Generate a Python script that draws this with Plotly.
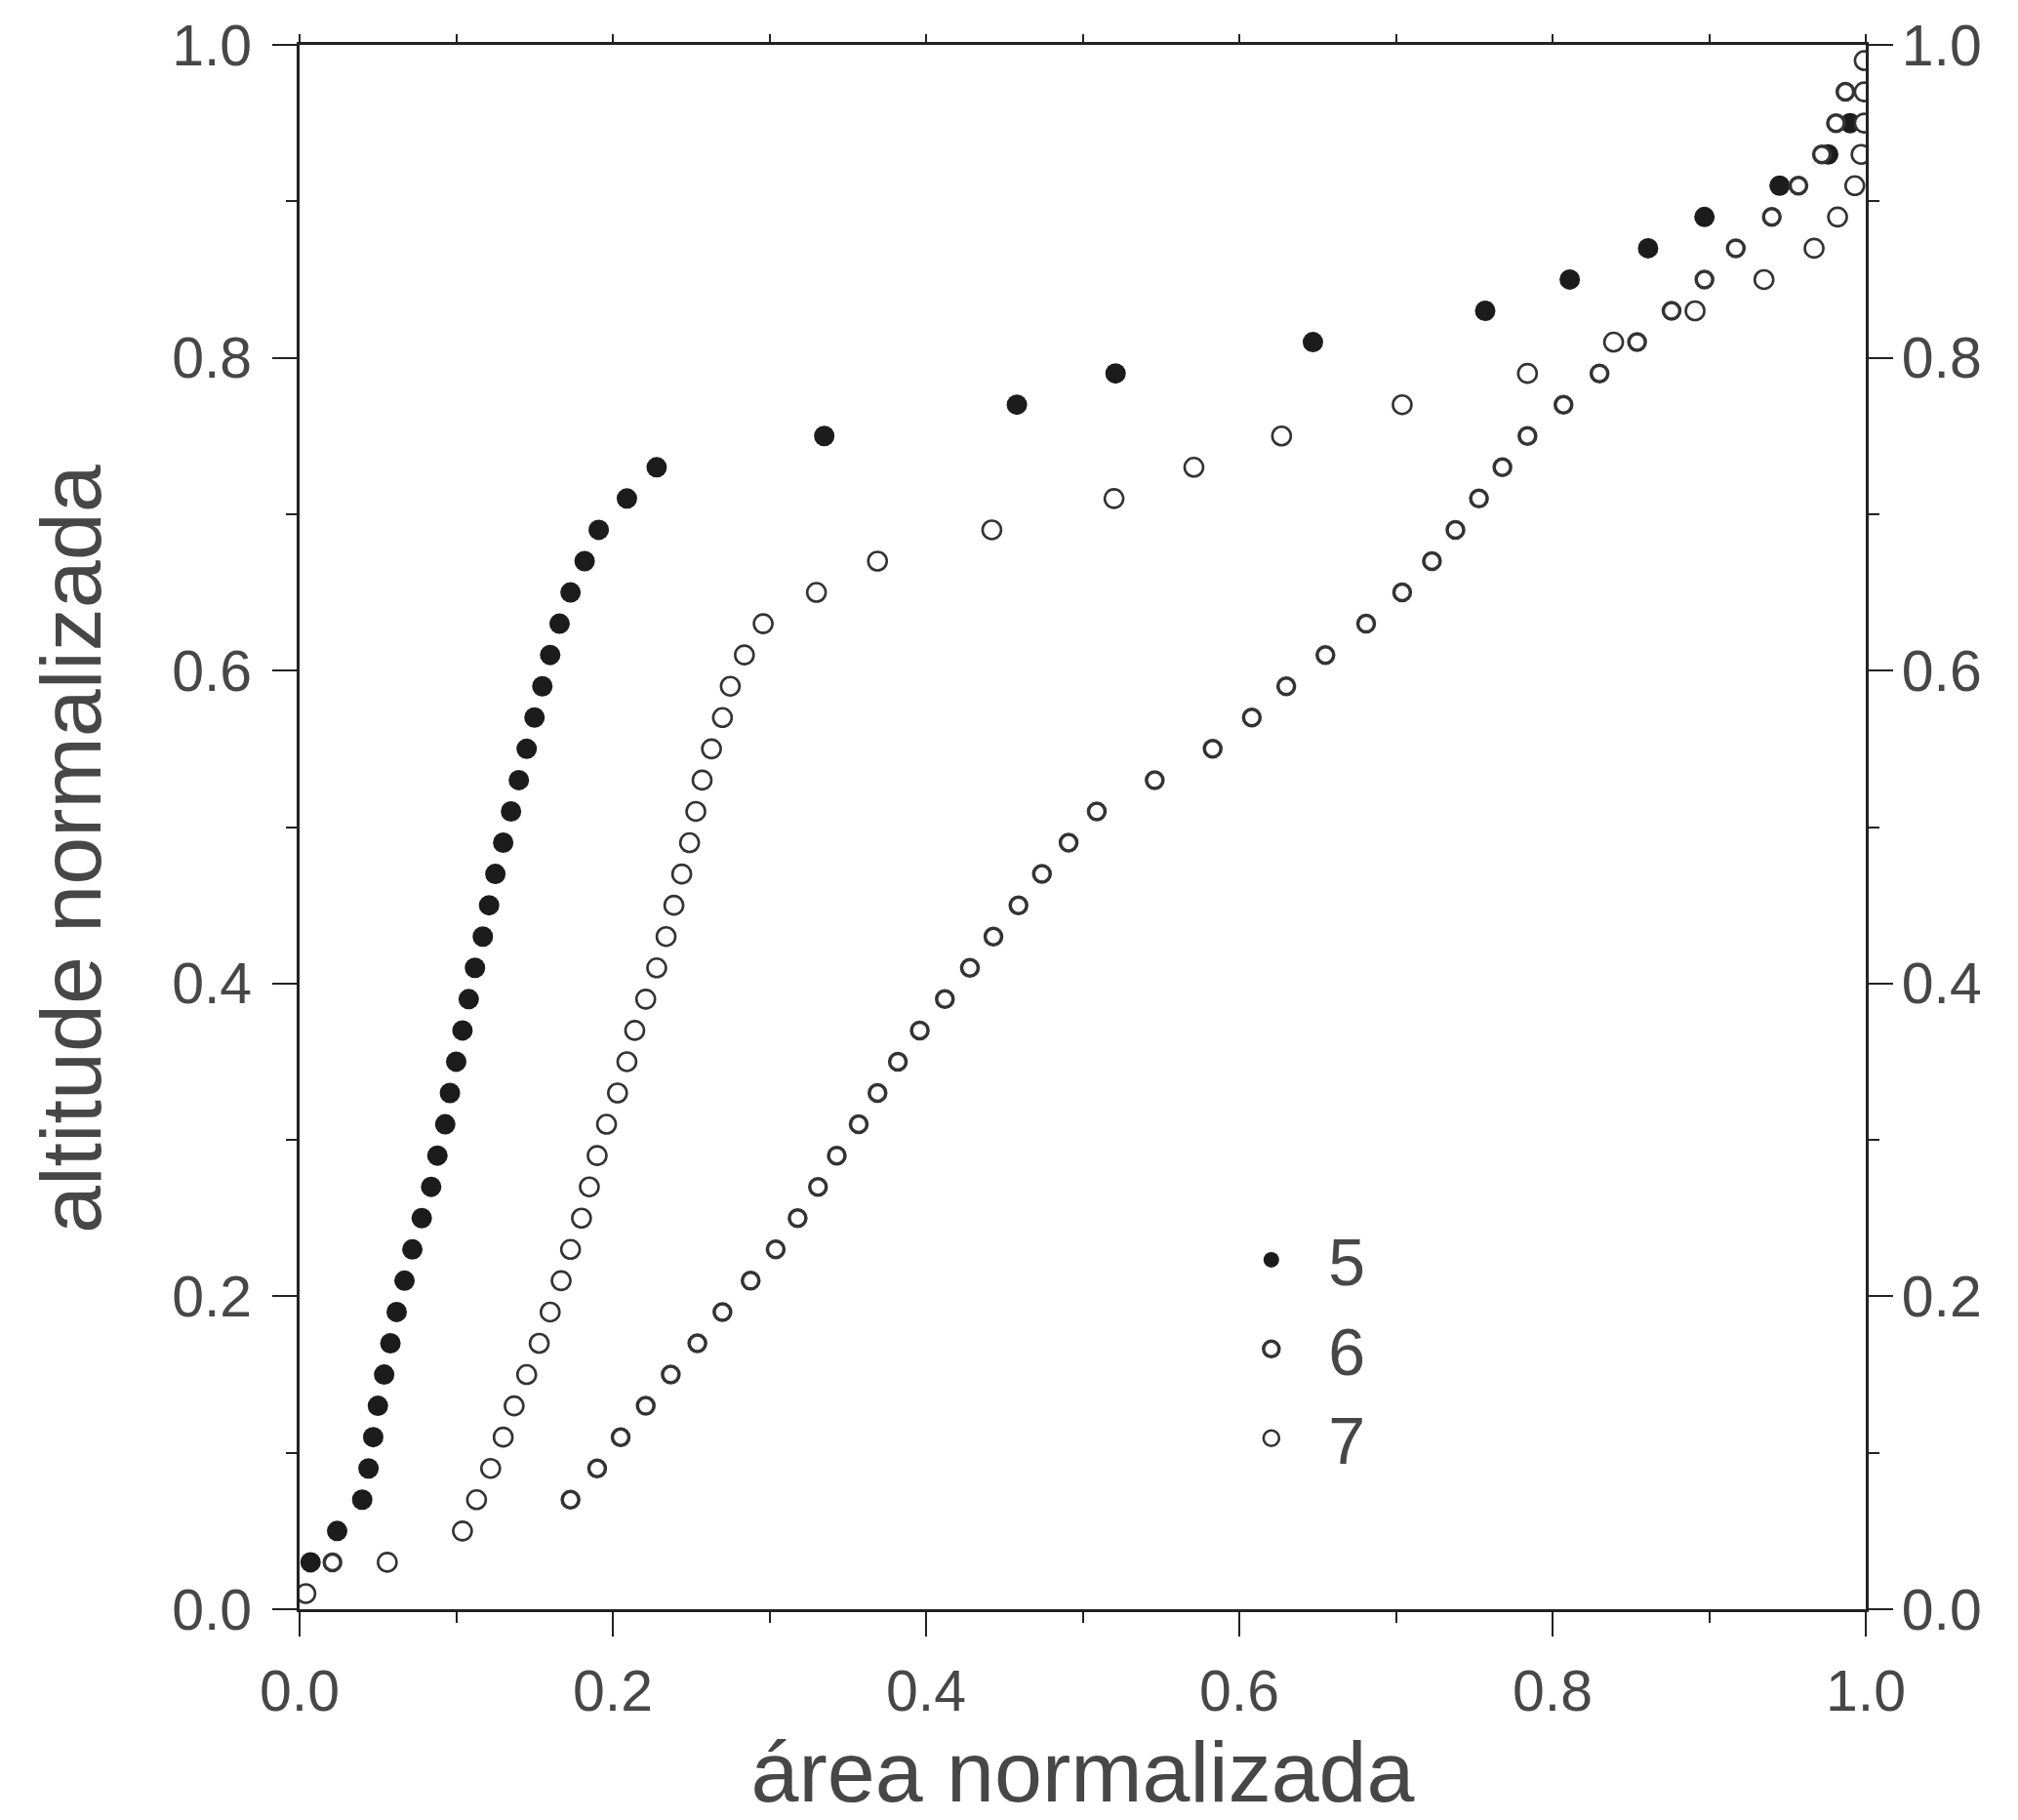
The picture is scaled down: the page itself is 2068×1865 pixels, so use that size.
import plotly.graph_objects as go

# Series 5 (filled circles)
y5 = [0.03, 0.05, 0.07, 0.09, 0.11, 0.13, 0.15, 0.17, 0.19, 0.21, 0.23, 0.25, 0.27, 0.29, 0.31,
      0.33, 0.35, 0.37, 0.39, 0.41, 0.43, 0.45, 0.47, 0.49, 0.51, 0.53, 0.55, 0.57, 0.59, 0.61,
      0.63, 0.65, 0.67, 0.69, 0.71, 0.73, 0.75, 0.77, 0.79, 0.81, 0.83, 0.85, 0.87, 0.89, 0.91,
      0.93, 0.95]
x5 = [0.007, 0.024, 0.040, 0.044, 0.047, 0.050, 0.054, 0.058, 0.062, 0.067, 0.072, 0.078, 0.084,
      0.088, 0.093, 0.096, 0.100, 0.104, 0.108, 0.112, 0.117, 0.121, 0.125, 0.130, 0.135, 0.140,
      0.145, 0.150, 0.155, 0.160, 0.166, 0.173, 0.182, 0.191, 0.209, 0.228, 0.335, 0.458, 0.521,
      0.647, 0.757, 0.811, 0.861, 0.897, 0.945, 0.976, 0.990]

# Series 6 (small thick rings, right-hand curve)
y6 = [0.03, 0.07, 0.09, 0.11, 0.13, 0.15, 0.17, 0.19, 0.21, 0.23, 0.25, 0.27, 0.29, 0.31, 0.33,
      0.35, 0.37, 0.39, 0.41, 0.43, 0.45, 0.47, 0.49, 0.51, 0.53, 0.55, 0.57, 0.59, 0.61, 0.63,
      0.65, 0.67, 0.69, 0.71, 0.73, 0.75, 0.77, 0.79, 0.81, 0.83, 0.85, 0.87, 0.89, 0.91, 0.93,
      0.95, 0.97, 0.99]
x6 = [0.021, 0.173, 0.190, 0.205, 0.221, 0.237, 0.254, 0.270, 0.288, 0.304, 0.318, 0.331, 0.343,
      0.357, 0.369, 0.382, 0.396, 0.412, 0.428, 0.443, 0.459, 0.474, 0.491, 0.509, 0.546, 0.583,
      0.608, 0.630, 0.655, 0.681, 0.704, 0.723, 0.738, 0.753, 0.768, 0.784, 0.807, 0.830, 0.854,
      0.876, 0.897, 0.917, 0.940, 0.957, 0.972, 0.981, 0.987, 0.999]

# Series 7 (open rings, middle curve)
y7 = [0.01, 0.03, 0.05, 0.07, 0.09, 0.11, 0.13, 0.15, 0.17, 0.19, 0.21, 0.23, 0.25, 0.27, 0.29,
      0.31, 0.33, 0.35, 0.37, 0.39, 0.41, 0.43, 0.45, 0.47, 0.49, 0.51, 0.53, 0.55, 0.57, 0.59,
      0.61, 0.63, 0.65, 0.67, 0.69, 0.71, 0.73, 0.75, 0.77, 0.79, 0.81, 0.83, 0.85, 0.87, 0.89,
      0.91, 0.93, 0.95, 0.97, 0.99]
x7 = [0.004, 0.056, 0.104, 0.113, 0.122, 0.130, 0.137, 0.145, 0.153, 0.160, 0.167, 0.173, 0.180,
      0.185, 0.190, 0.196, 0.203, 0.209, 0.214, 0.221, 0.228, 0.234, 0.239, 0.244, 0.249, 0.253,
      0.257, 0.263, 0.270, 0.275, 0.284, 0.296, 0.330, 0.369, 0.442, 0.520, 0.571, 0.627, 0.704,
      0.784, 0.839, 0.891, 0.935, 0.967, 0.982, 0.993, 0.997, 0.999, 0.999, 0.999]

series_names = ["5", "6", "7"]
x_title = "área normalizada"
y_title = "altitude normalizada"

FONT = "Liberation Sans, Arial, sans-serif"
TEXT = "#474747"
LINE = "#222222"

fig = go.Figure()
fig.add_trace(go.Scatter(x=x5, y=y5, mode="markers", name=series_names[0],
                         marker=dict(symbol="circle", size=21, color="#1c1c1c",
                                     line=dict(width=0))))
fig.add_trace(go.Scatter(x=x6, y=y6, mode="markers", name=series_names[1],
                         marker=dict(symbol="circle", size=17, color="white",
                                     line=dict(width=3.5, color="#333333"))))
fig.add_trace(go.Scatter(x=x7, y=y7, mode="markers", name=series_names[2],
                         marker=dict(symbol="circle", size=19, color="white",
                                     line=dict(width=2.6, color="#333333"))))
# helper trace so that the secondary (right/top) axes are drawn
fig.add_trace(go.Scatter(x=[0.5], y=[0.5], xaxis="x2", yaxis="y2", mode="markers",
                         marker=dict(opacity=0), showlegend=False, hoverinfo="skip"))

tick_common = dict(range=[0, 1], dtick=0.2, tick0=0, tickformat=".1f",
                   ticks="outside", ticklen=25, tickwidth=2, tickcolor=LINE,
                   showline=True, linecolor=LINE, linewidth=3,
                   showgrid=False, zeroline=False,
                   minor=dict(dtick=0.1, tick0=0, ticks="outside", ticklen=11,
                              tickwidth=2, tickcolor=LINE, showgrid=False),
                   tickfont=dict(family=FONT, size=59, color=TEXT))

top_axis = {k: v for k, v in tick_common.items() if k not in ("tickfont", "minor", "ticklen")}

fig.update_layout(
    width=2068, height=1865,
    margin=dict(l=307, r=156, t=46, b=206, pad=0),
    paper_bgcolor="white", plot_bgcolor="white",
    font=dict(family=FONT, color=TEXT),
    xaxis=dict(**tick_common, mirror=True, ticklabelstandoff=5,
               title=dict(text=x_title, font=dict(family=FONT, size=88, color=TEXT),
                          standoff=26)),
    yaxis=dict(**tick_common, mirror=True, ticklabelstandoff=9),
    xaxis2=dict(**top_axis, ticklen=8,
                minor=dict(dtick=0.1, tick0=0, ticks="outside", ticklen=8,
                           tickwidth=2, tickcolor=LINE, showgrid=False),
                overlaying="x", side="top", showticklabels=False, anchor="y2"),
    yaxis2=dict(**tick_common, overlaying="y", side="right", anchor="x2",
                ticklabelstandoff=-3),
    legend=dict(x=0.584, y=0.255, xanchor="left", yanchor="top",
                bgcolor="rgba(0,0,0,0)", borderwidth=0,
                font=dict(family=FONT, size=68, color=TEXT),
                itemsizing="trace", itemwidth=107),
    showlegend=True,
    annotations=[dict(text=y_title, textangle=-90, xref="paper", yref="paper",
                      x=0, y=0.486, xanchor="center", yanchor="middle",
                      xshift=-234, showarrow=False,
                      font=dict(family=FONT, size=88, color=TEXT))],
)

fig.write_html("out.html")
